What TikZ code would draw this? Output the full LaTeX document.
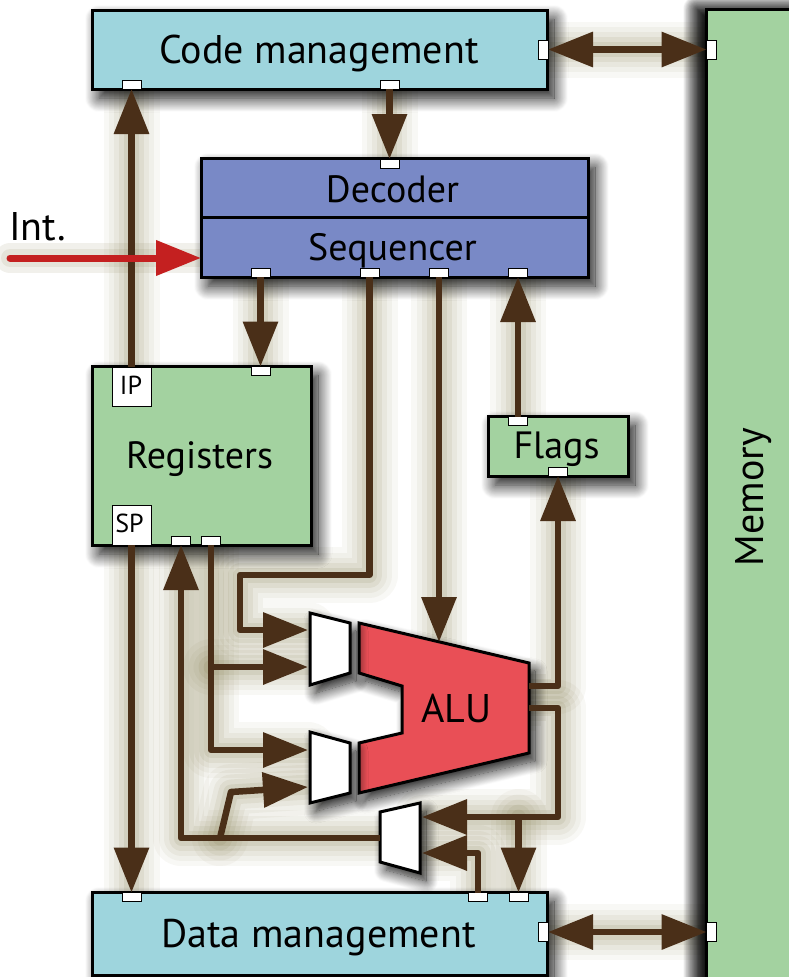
\documentclass[tikz,border=0pt]{standalone}
\usepackage{fontspec}
\setmainfont{PT Sans}
\usetikzlibrary{arrows.meta,shadows.blur}

\pgfdeclarelayer{glowlayer}
\pgfsetlayers{glowlayer,main}

\definecolor{codecol}{RGB}{158,213,221}
\definecolor{cpucol}{RGB}{121,137,198}
\definecolor{regcol}{RGB}{163,210,160}
\definecolor{alucol}{RGB}{233,79,86}
\definecolor{wirecol}{RGB}{74,47,24}
\definecolor{intcol}{RGB}{196,32,32}
\definecolor{glowcol}{RGB}{118,110,58}

\tikzset{
  unitbox/.style={draw=black, line width=3pt, inner sep=0pt, outer sep=0pt,
    blur shadow={shadow xshift=7pt, shadow yshift=-9pt, shadow blur radius=14pt,
                 shadow blur steps=18, shadow opacity=95}},
  txt/.style={anchor=base, inner sep=0pt, font=\fontsize{40pt}{48pt}\selectfont},
  smalltxt/.style={txt, font=\fontsize{38pt}{45pt}\selectfont},
  tinytxt/.style={txt, font=\fontsize{26pt}{30pt}\selectfont},
  port/.style={draw=black, line width=0.9pt, fill=white, inner sep=0pt, outer sep=0pt,
    minimum width=19pt, minimum height=9pt},
  vport/.style={port, minimum width=10pt, minimum height=19pt},
  regslot/.style={draw=black, line width=0.9pt, fill=white, inner sep=0pt, outer sep=0pt,
    minimum width=39pt, minimum height=39pt},
  frame/.style={inner sep=0pt, outer sep=0pt},
  unitshape/.style={draw=black, line width=3pt, line join=miter,
    blur shadow={shadow xshift=6pt, shadow yshift=-8pt, shadow blur radius=12pt,
                 shadow blur steps=16, shadow opacity=90}},
  wire/.style={draw=wirecol, line width=6.5pt, line join=round},
  intwire/.style={draw=intcol, line width=7pt, line cap=round},
  glow/.style 2 args={draw=glowcol, line width=#1, opacity=#2, arrows=-,
    line join=round, line cap=round},
  >={Triangle[length=45pt,width=34pt]},
}

% All brown data paths; the argument selects the stroke style
\newcommand\cpuwires[1]{%
  \draw[wire,->,#1] (ip.north) -- (ip.north |- cp1.south);
  \draw[wire,->,#1] (cp2.south) -- (dp0.north);
  \draw[wire,<->,#1] (cp3.east) -- (mp1.west);
  \draw[wire,->,#1] (sp1.south) -- (sp1.south |- rp0.north);
  \draw[wire,->,#1] (sp2.south) -- (sp2.south |- 0,575) -- (240,575) |- (m1a);
  \draw[wire,->,#1] (sp3.south) -- (sp3.south |- alutop);
  \draw[wire,->,#1] (fp1.north) -- (sp4.south);
  \draw[wire,->,#1] (aluo1) -| (fp2.south);
  \draw[wire,->,#1] (aluo2) -- (558,708) |- (m3a);
  \draw[wire,->,#1] (dmp3.north |- m3a) -- (dmp3.north);
  \draw[wire,->,#1] (dmp2.north) |- (m3b);
  \draw[wire,->,#1] (m3o) -| (rp1.south);
  \draw[wire,->,#1] (220,838) -- (231,792) -- (m2b);
  \draw[wire,->,#1] (rp2.south) |- (m2a);
  \draw[wire,->,#1] (rp2.south |- m1b) -- (m1b);
  \draw[wire,->,#1] (spr.south) -- (spr.south |- dmp1.north);
  \draw[wire,<->,#1] (dmp4.east) -- (mp2.west);
}

\begin{document}
\begin{tikzpicture}[x=1pt,y=-1pt]
\useasboundingbox (0,0) rectangle (789,977);

% ---- functional units ----
\node[unitbox, fill=regcol, minimum width=94pt, minimum height=991pt,
  blur shadow={shadow xshift=-9pt, shadow yshift=0pt, shadow blur radius=14pt,
               shadow blur steps=18, shadow opacity=90}] (mem) at (753,504.5) {};
\node[unitbox, fill=codecol, minimum width=455pt, minimum height=79pt] (code) at (319.5,49.5) {};
\node[unitbox, fill=cpucol, minimum width=387pt, minimum height=119pt] (seqbox) at (394.5,217.5) {};
\draw[line width=3pt] (seqbox.west |- 0,217) -- (seqbox.east |- 0,217);
\node[unitbox, fill=regcol, minimum width=219pt, minimum height=179pt] (reg) at (201.5,455.5) {};
\node[unitbox, fill=regcol, minimum width=140pt, minimum height=60pt] (flags) at (558,446) {};
\node[unitbox, fill=codecol, minimum width=455pt, minimum height=83pt] (data) at (319.5,933.5) {};

% register slots
\node[regslot] (ip) at (131.5,386.5) {};
\node[regslot, minimum height=40pt] (spr) at (131.5,525) {};

% ALU and multiplexers
\node[frame, minimum width=170pt, minimum height=170pt] (alubody) at (444,708) {};
\filldraw[unitshape, fill=alucol] (359,623) -- (529,663) -- (529,753) -- (359,793)
  -- (359,743) -- (402,733) -- (402,686) -- (359,673) -- cycle;
\node[frame, minimum width=40pt, minimum height=72pt] (mux1) at (330,649) {};
\filldraw[unitshape, fill=white] (mux1.north west) -- ([yshift=-10pt]mux1.north east)
  -- ([yshift=12pt]mux1.south east) -- (mux1.south west) -- cycle;
\node[frame, minimum width=40pt, minimum height=71pt] (mux2) at (330,767.5) {};
\filldraw[unitshape, fill=white] (mux2.north west) -- ([yshift=-11pt]mux2.north east)
  -- ([yshift=10pt]mux2.south east) -- (mux2.south west) -- cycle;
\node[frame, minimum width=40pt, minimum height=70pt] (mux3) at (400,838) {};
\filldraw[unitshape, fill=white] (mux3.north east) -- (mux3.south east)
  -- ([yshift=11pt]mux3.south west) -- ([yshift=-9pt]mux3.north west) -- cycle;

% ---- ports ----
\node[port] (cp1) at (131.5,84.5) {};
\node[port] (cp2) at (389.5,84.5) {};
\node[vport] (cp3) at (543,49.5) {};
\node[vport] (mp1) at (711.5,49.5) {};
\node[port] (dp0) at (389.5,163.5) {};
\node[port] (sp1) at (260.5,272.5) {};
\node[port] (sp2) at (369.5,272.5) {};
\node[port] (sp3) at (439,272.5) {};
\node[port] (sp4) at (518,272.5) {};
\node[port] (rp0) at (261,371) {};
\node[port] (rp1) at (181,540.5) {};
\node[port] (rp2) at (211,540.5) {};
\node[port] (fp1) at (518,421) {};
\node[port] (fp2) at (558,471.5) {};
\node[port] (dmp1) at (131.5,897) {};
\node[port] (dmp2) at (478,897) {};
\node[port] (dmp3) at (518.5,897) {};
\node[vport] (dmp4) at (543,932) {};
\node[vport] (mp2) at (711.5,932) {};

% connection points on the ALU and multiplexers
\coordinate (alutop) at (440,642);
\coordinate (aluo1) at (529,686);
\coordinate (aluo2) at (529,708);
\coordinate (m1a) at ([xshift=-2pt,yshift=19pt]mux1.west);
\coordinate (m1b) at ([xshift=-2pt,yshift=-18pt]mux1.west);
\coordinate (m2a) at ([xshift=-2pt,yshift=17.5pt]mux2.west);
\coordinate (m2b) at ([xshift=-2pt,yshift=-19.5pt]mux2.west);
\coordinate (m3a) at ([xshift=2pt,yshift=21pt]mux3.east);
\coordinate (m3b) at ([xshift=2pt,yshift=-15pt]mux3.east);
\coordinate (m3o) at (mux3.west);
\coordinate (intsrc) at (10,258);

% ---- labels ----
\node[txt] (codelbl) at (319,63) {Code management};
\node[smalltxt] (declbl) at (392.5,202) {Decoder};
\node[smalltxt] (seqlbl) at (392.5,260) {Sequencer};
\node[smalltxt] (reglbl) at (199.5,468) {Registers};
\node[smalltxt] (flagslbl) at (556.5,458) {Flags};
\node[txt] (alu) at (456.5,722) {ALU};
\node[txt] (datalbl) at (318.5,947) {Data management};
\node[txt, rotate=90] (memlbl) at (763,497) {Memory};
\node[txt] (intlbl) at (37.5,240) {Int.};
\node[tinytxt] (iplbl) at (131,394) {IP};
\node[tinytxt] (splbl) at (129.5,532) {SP};

% ---- connectors: soft glow underneath, then the wires ----
\begin{pgfonlayer}{glowlayer}
  \cpuwires{glow={56pt}{.05}}
  \cpuwires{glow={45pt}{.06}}
  \cpuwires{glow={35pt}{.07}}
  \cpuwires{glow={25pt}{.09}}
  \cpuwires{glow={15pt}{.11}}
  \draw[glow={30pt}{.10}] (intsrc) -- (seqbox.west |- intsrc);
  \draw[glow={18pt}{.10}] (intsrc) -- (seqbox.west |- intsrc);
\end{pgfonlayer}
\cpuwires{}
\draw[intwire,->] (intsrc) -- (seqbox.west |- intsrc);
\end{tikzpicture}
\end{document}
